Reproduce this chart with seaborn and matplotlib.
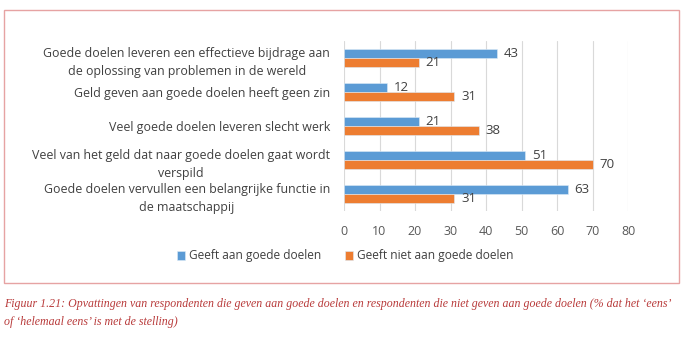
import matplotlib
matplotlib.use("Agg")
import matplotlib.pyplot as plt
import seaborn as sns
import pandas as pd
from matplotlib.patches import Rectangle

categories = [
    "Goede doelen leveren een effectieve bijdrage aan\nde oplossing van problemen in de wereld",
    "Geld geven aan goede doelen heeft geen zin",
    "Veel goede doelen leveren slecht werk",
    "Veel van het geld dat naar goede doelen gaat wordt\nverspild",
    "Goede doelen vervullen een belangrijke functie in\nde maatschappij",
]
series_names = ["Geeft aan goede doelen", "Geeft niet aan goede doelen"]
geeft = [43, 12, 21, 51, 63]
geeft_niet = [21, 31, 38, 70, 31]
xticks = [0, 10, 20, 30, 40, 50, 60, 70, 80]
caption = ("Figuur 1.21: Opvattingen van respondenten die geven aan goede doelen en respondenten die niet geven aan goede doelen (% dat het \u2018eens\u2019\n"
           "of \u2018helemaal eens\u2019 is met de stelling)")

df = pd.DataFrame({
    "cat": categories * 2,
    "val": geeft + geeft_niet,
    "serie": [series_names[0]] * 5 + [series_names[1]] * 5,
})

sns.set_theme(style="white")
plt.rcParams['font.family'] = ['Open Sans', 'DejaVu Sans']

fig = plt.figure(figsize=(6.83, 3.43), dpi=100)
ax = fig.add_axes([344/683, 1-211/343, (628-344)/683, (211-41)/343])

palette = {series_names[0]: "#5B9BD5", series_names[1]: "#ED7D31"}
sns.barplot(data=df, y="cat", x="val", hue="serie", orient="h", palette=palette,
            width=0.52, ax=ax, edgecolor="#DDEBF7", linewidth=0.4, saturation=1)

for cont in ax.containers:
    ax.bar_label(cont, padding=5, fontsize=9.5, color="#404040")

ax.set_xlim(0, 80)
ax.set_xticks(xticks)
ax.set_xticklabels([str(t) for t in xticks], fontsize=9, color="#595959")
ax.tick_params(axis="x", length=0, pad=10)
ax.tick_params(axis="y", length=0, pad=10)
ax.set_yticklabels(categories, fontsize=8.9, color="#404040", multialignment="center",
                   linespacing=1.55)
ax.set_xlabel("")
ax.set_ylabel("")
ax.grid(axis="x", color="#D9D9D9", linewidth=0.8)
ax.set_axisbelow(True)
for s in ax.spines.values():
    s.set_visible(False)

leg = ax.legend(loc="center", bbox_to_anchor=(345/683, 1-256/343), bbox_transform=fig.transFigure,
                ncol=2, frameon=False, fontsize=8.6, handlelength=0.7, handleheight=0.7,
                handletextpad=0.3, columnspacing=2.0)
for t in leg.get_texts():
    t.set_color("#404040")

fig.patches.append(Rectangle((4/683, 1-283/343), 675/683, 273/343, transform=fig.transFigure,
                             fill=False, edgecolor="#E6A3A3", linewidth=1))

fig.text(4/683, 1-298/343, caption, ha="left", va="top", fontsize=8.6, color="#B83A3A",
         family="Liberation Serif", style="italic", linespacing=1.65)

fig.savefig("out.png", dpi=100, facecolor="white")
